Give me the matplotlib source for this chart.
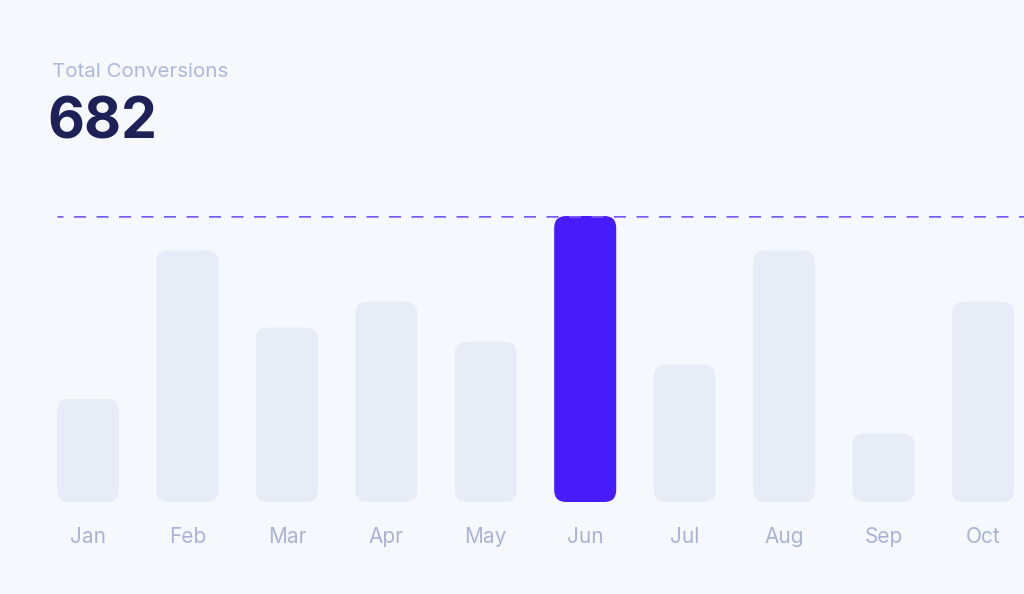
import matplotlib
matplotlib.use("Agg")
import matplotlib.pyplot as plt
from matplotlib.patches import FancyBboxPatch

months = ["Jan", "Feb", "Mar", "Apr", "May", "Jun", "Jul", "Aug", "Sep", "Oct"]
conversions = [36, 88, 61, 70, 56, 100, 48, 88, 24, 70]
highlight = "Jun"
total_label = "Total Conversions"
total_value = "682"

BG = "#f5f9fe"
BAR = "#e8ecf6"
HL = "#461cfb"
DASH = "#7a5cf5"
LBL = "#aab3d6"

W, H = 1024, 594
fig = plt.figure(figsize=(W / 100, H / 100), dpi=100, facecolor=BG)

spacing = 99.44
x0 = 88
bottom_px, top_px = 502, 216
ax = fig.add_axes([0, (H - bottom_px) / H, 1, (bottom_px - top_px) / H])
ax.set_facecolor(BG)
ymax = max(conversions)
ax.set_xlim(-x0 / spacing, (W - x0) / spacing)
ax.set_ylim(0, ymax)
for s in ax.spines.values():
    s.set_visible(False)
ax.set_xticks([])
ax.set_yticks([])

bw = 62 / spacing
r = 12 / spacing
px_per_y = (bottom_px - top_px) / ymax
aspect = spacing / px_per_y
for i, (m, v) in enumerate(zip(months, conversions)):
    c = HL if m == highlight else BAR
    p = FancyBboxPatch((i - bw / 2, 0), bw, v,
                       boxstyle=f"round,pad=0,rounding_size={r}",
                       mutation_aspect=aspect, facecolor=c, edgecolor="none",
                       clip_on=False, zorder=2)
    ax.add_patch(p)
    ax.text(i, -35 / px_per_y, m, ha="center", va="center", fontsize=15,
            color=LBL, family="Inter", clip_on=False)

ax.axhline(ymax, color=DASH, lw=1.8, linestyle=(2.4, (4.8, 4.2)), zorder=3,
           xmin=57 / W, xmax=1)

fig.text(52 / W, 1 - 72 / H, total_label, ha="left", va="center",
         fontsize=14.8, color="#aeb8dc", family="Inter")
fig.text(47 / W, 1 - 124 / H, total_value, ha="left", va="center",
         fontsize=41, color="#1e2157", family="Inter", fontweight="bold")

fig.savefig("out.png", dpi=100, facecolor=BG)
